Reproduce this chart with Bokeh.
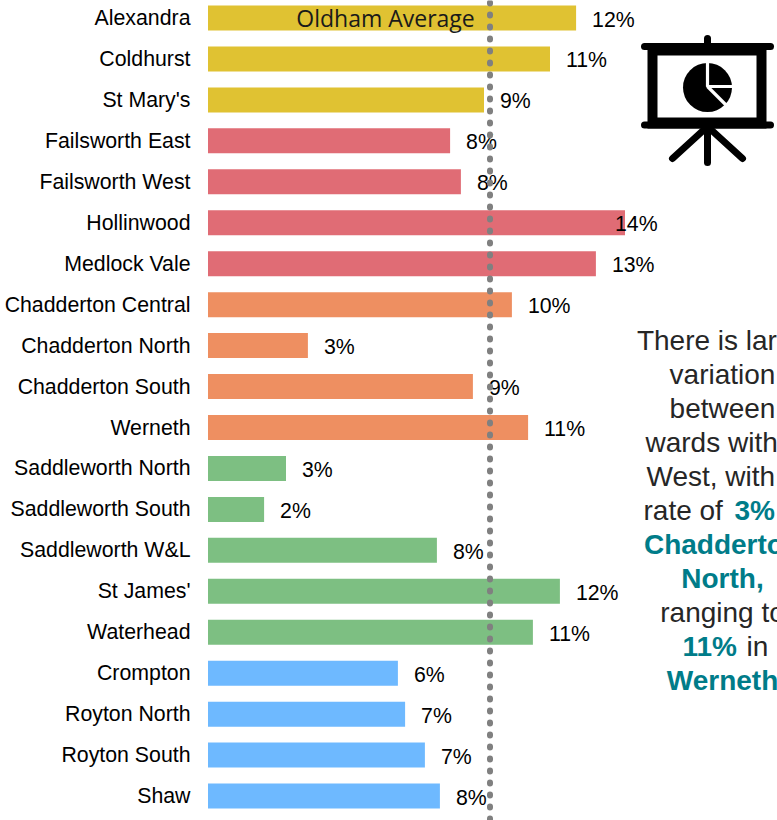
from bokeh.plotting import figure
from bokeh.models import FixedTicker, Range1d, Label
from bokeh.core.properties import value
from bokeh.embed import file_html
from bokeh.resources import INLINE

wards = ["Alexandra", "Coldhurst", "St Mary's", "Failsworth East", "Failsworth West", "Hollinwood",
         "Medlock Vale", "Chadderton Central", "Chadderton North", "Chadderton South", "Werneth",
         "Saddleworth North", "Saddleworth South", "Saddleworth W&L", "St James'", "Waterhead",
         "Crompton", "Royton North", "Royton South", "Shaw"]
rates = [12.27, 11.4, 9.2, 8.07, 8.43, 13.9, 12.93, 10.13, 3.33, 8.83, 10.67, 2.6, 1.87, 7.63,
         11.73, 10.83, 6.33, 6.57, 7.23, 7.73]
rate_labels = ["12%", "11%", "9%", "8%", "8%", "14%", "13%", "10%", "3%", "9%", "11%", "3%", "2%",
               "8%", "12%", "11%", "6%", "7%", "7%", "8%"]
group_colors = ["#E0C232"] * 3 + ["#E06C75"] * 4 + ["#EE8F61"] * 4 + ["#7DBF82"] * 5 + ["#6EB9FF"] * 4
oldham_average = 9.4

W, H, LEFT = 777, 820, 207
PX_PER_X, PX_PER_ROW, ROW0 = 30.0, 40.95, 17.5
ZERO_PX = LEFT + 0.5

p = figure(width=W, height=H, output_backend="svg", toolbar_location=None,
           x_range=Range1d(-0.5 / PX_PER_X, (W - ZERO_PX) / PX_PER_X),
           y_range=Range1d((H - ROW0) / PX_PER_ROW, -ROW0 / PX_PER_ROW),
           min_border_left=LEFT, min_border_right=0, min_border_top=0, min_border_bottom=0,
           outline_line_color=None)
p.xaxis.visible = False
p.grid.visible = False
ax = p.yaxis[0]
ax.ticker = FixedTicker(ticks=list(range(len(wards))))
ax.major_label_overrides = {i: w for i, w in enumerate(wards)}
ax.axis_line_color = None
ax.major_tick_line_color = None
ax.major_tick_out = 0
ax.minor_tick_out = 0
ax.minor_tick_line_color = None
ax.major_label_standoff = 17
ax.major_label_text_font = "Liberation Sans"
ax.major_label_text_font_size = "21.3px"
ax.major_label_text_color = "#000000"

ys = list(range(len(wards)))
# the 14% label sits back over the end of its bar in the reference
label_shift = [-10 if t == "14%" else 16 for t in rate_labels]
p.hbar(y=ys, left=0, right=rates, height=25 / PX_PER_ROW, fill_color=group_colors, line_color=None)
p.text(x=rates, y=ys, text=rate_labels, x_offset=label_shift, y_offset=1.5, text_align="left",
       text_baseline="middle", text_font=value("Liberation Sans"), text_font_size="21.3px",
       text_color="#000000")

p.line(x=[oldham_average, oldham_average], y=[-27.5 / PX_PER_ROW, (H - ROW0) / PX_PER_ROW],
       line_color="#808080", line_width=6, line_cap="round", line_dash="1 11")


def label(x, y, t, size, color, bold=False, font="Liberation Sans", align="left"):
    p.add_layout(Label(x=x - LEFT, y=H - y, x_units="screen", y_units="screen", text=t,
                       text_font=font, text_font_size=size, text_color=color,
                       text_font_style="bold" if bold else "normal",
                       text_align=align, text_baseline="middle"))


label(385, 17, "Oldham Average", "23px", "#1a1a1a", font="Open Sans", align="center")

GREY, TEAL, FS = "#262626", "#007C89", "28px"
CX = 722
for y, t, c, b in [(340, "There is large", GREY, False), (374, "variation", GREY, False),
                   (408, "between", GREY, False), (442, "wards within", GREY, False),
                   (476, "West, with a", GREY, False), (544, "Chadderton", TEAL, True),
                   (578, "North,", TEAL, True), (612, "ranging to", GREY, False),
                   (680, "Werneth", TEAL, True)]:
    label(CX, y, t, FS, c, b, align="center")
label(643, 510, "rate of", FS, GREY)
label(734, 510, "3%", FS, TEAL, True)
label(682, 646, "11%", FS, TEAL, True)
label(746, 646, "in", FS, GREY)


def dx(px):
    return (px - ZERO_PX) / PX_PER_X


def dy(px):
    return (px - ROW0) / PX_PER_ROW


def seg(x0, y0, x1, y1, w, color="#000000"):
    p.line(x=[dx(x0), dx(x1)], y=[dy(y0), dy(y1)], line_color=color, line_width=w, line_cap="round")


# presentation icon
p.quad(left=dx(647), right=dx(766), top=dy(43), bottom=dy(128), fill_color="#000000", line_color=None)
p.quad(left=dx(657), right=dx(756), top=dy(55), bottom=dy(117), fill_color="#FFFFFF", line_color=None)
seg(644, 46, 770, 46, 7)
seg(644, 124.5, 770, 124.5, 7)
seg(707, 38, 707, 46, 7)
seg(707, 126, 707, 162, 7)
seg(707, 126, 672, 158, 7)
seg(707, 126, 742, 158, 7)
p.scatter(x=[dx(707)], y=[dy(87)], size=49, marker="circle", fill_color="#000000", line_color=None)
p.line(x=[dx(707), dx(707), dx(733)], y=[dy(60), dy(86), dy(86)], line_color="#FFFFFF", line_width=3.2)
p.line(x=[dx(707), dx(727)], y=[dy(86), dy(106)], line_color="#FFFFFF", line_width=3.2)

open("out.html", "w").write(file_html(p, INLINE))
